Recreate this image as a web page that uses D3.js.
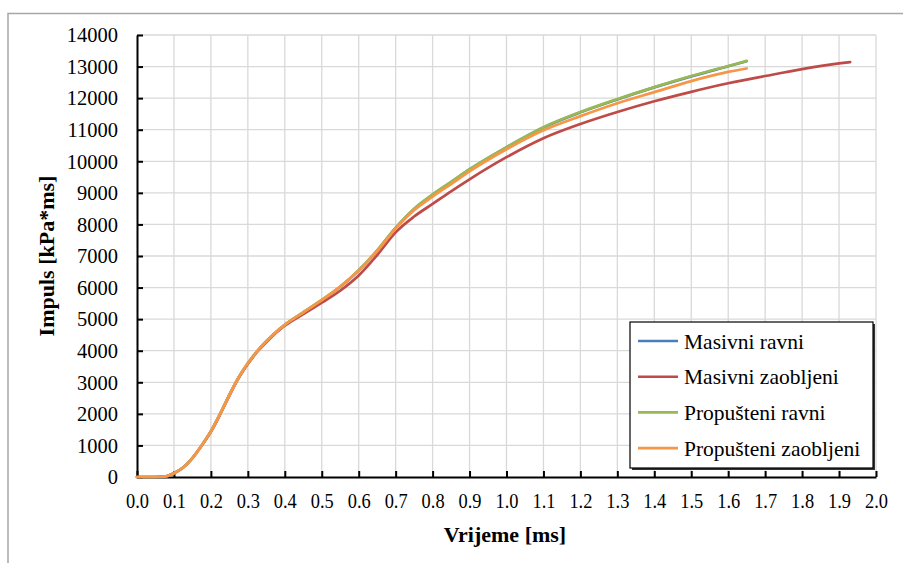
<!DOCTYPE html>
<html><head><meta charset="utf-8">
<script src="https://cdn.jsdelivr.net/npm/d3@7"></script>
<style>body{margin:0;background:#fff}svg{display:block}text{font-family:"Liberation Serif","DejaVu Serif",serif}</style>
</head><body>
<svg id="c" width="903" height="563"></svg>
<script>
const seriesNames = ["Masivni ravni","Masivni zaobljeni","Propušteni ravni","Propušteni zaobljeni"];
const seriesColors = ["#4a7ebb","#be4b48","#98b954","#f79646"];
const timeP = [0,0.05,0.075,0.1,0.125,0.15,0.175,0.2,0.225,0.25,0.275,0.3,0.325,0.35,0.375,0.4,0.45,0.5,0.55,0.6,0.65,0.7,0.75,0.8,0.85,0.9,1.0,1.1,1.2,1.3,1.4,1.5,1.6,1.65];
const timeM = [0,0.05,0.075,0.1,0.125,0.15,0.175,0.2,0.225,0.25,0.275,0.3,0.325,0.35,0.375,0.4,0.45,0.5,0.55,0.6,0.65,0.7,0.75,0.8,0.85,0.9,1.0,1.1,1.2,1.3,1.4,1.5,1.6,1.7,1.8,1.9,1.93];
const masivniRavni =        [0,0,15,120,300,600,1000,1450,2000,2600,3150,3600,3980,4300,4580,4820,5210,5600,6020,6540,7170,7890,8490,8940,9340,9740,10440,11070,11550,11960,12340,12690,13010,13170];
const masivniZaobljeni =    [0,0,15,120,300,600,990,1430,1980,2580,3130,3580,3960,4270,4550,4790,5160,5520,5900,6380,7030,7750,8250,8650,9050,9430,10130,10730,11180,11560,11900,12200,12470,12700,12920,13100,13140];
const propusteniRavni =     [0,0,15,120,300,600,1000,1450,2000,2600,3150,3600,3980,4300,4580,4820,5220,5610,6030,6550,7180,7900,8500,8950,9350,9750,10450,11080,11560,11970,12350,12700,13020,13180];
const propusteniZaobljeni = [0,0,15,120,300,600,1000,1450,2000,2600,3150,3600,3980,4300,4580,4820,5210,5600,6030,6540,7160,7870,8450,8880,9280,9680,10380,10980,11430,11840,12190,12540,12830,12940];
const xTicks = d3.range(0,21).map(i=>i/10);
const yTicks = d3.range(0,15).map(i=>i*1000);

const series = [
  {name:seriesNames[0], color:seriesColors[0], t:timeP, v:masivniRavni},
  {name:seriesNames[1], color:seriesColors[1], t:timeM, v:masivniZaobljeni},
  {name:seriesNames[2], color:seriesColors[2], t:timeP, v:propusteniRavni},
  {name:seriesNames[3], color:seriesColors[3], t:timeP, v:propusteniZaobljeni}
];

const svg = d3.select("#c");
const L=137,R=876,T=35,B=477;
const x = d3.scaleLinear().domain([0,2]).range([L,R]);
const y = d3.scaleLinear().domain([0,14000]).range([B,T]);

// outer chart border
svg.append("path").attr("d","M8,563V13.5H903").attr("fill","none").attr("stroke","#a6a6a6").attr("stroke-width",1.5);

// grid
svg.append("g").selectAll("line").data(xTicks.slice(1)).join("line")
  .attr("x1",d=>x(d)).attr("x2",d=>x(d)).attr("y1",T).attr("y2",B)
  .attr("stroke","#d9d9d9").attr("stroke-width",1.3);
svg.append("g").selectAll("line").data(yTicks.slice(1)).join("line")
  .attr("x1",L).attr("x2",R).attr("y1",d=>y(d)).attr("y2",d=>y(d))
  .attr("stroke","#d9d9d9").attr("stroke-width",1.3);

// axes
const font = '"Liberation Serif","DejaVu Serif",serif';
const yAxis = svg.append("g").attr("transform",`translate(${L},0)`)
  .call(d3.axisLeft(y).tickValues(yTicks).tickSizeInner(-6).tickSizeOuter(0).tickPadding(25).tickFormat(d3.format("d")));
const xAxis = svg.append("g").attr("transform",`translate(0,${B})`)
  .call(d3.axisBottom(x).tickValues(xTicks).tickSizeInner(-6).tickSizeOuter(0).tickPadding(0).tickFormat(d3.format(".1f")));
[yAxis,xAxis].forEach(a=>{
  a.attr("font-family",null).attr("font-size",null);
  a.select(".domain").attr("stroke","#000").attr("stroke-width",2);
  a.selectAll(".tick line").attr("stroke","#000").attr("stroke-width",2);
  a.selectAll("text").style("font-family",font).style("font-size","20.5px").attr("fill","#000");
});
yAxis.selectAll("text").attr("x",-19).attr("dy","0.33em");
xAxis.selectAll("text").attr("y",31).attr("dy",0)
  .attr("textLength",23).attr("lengthAdjust","spacingAndGlyphs");

// lines
const line = d3.line().x(d=>x(d[0])).y(d=>y(d[1])).curve(d3.curveMonotoneX);
svg.append("g").selectAll("path").data(series).join("path")
  .attr("d",s=>line(s.t.map((t,i)=>[t,s.v[i]])))
  .attr("fill","none").attr("stroke",s=>s.color).attr("stroke-width",2.7)
  .attr("stroke-linejoin","round").attr("stroke-linecap","round");

// axis titles
svg.append("text").attr("x",505).attr("y",542).attr("text-anchor","middle")
  .style("font-family",font).style("font-weight","bold").style("font-size","22px").text("Vrijeme [ms]");
svg.append("text").attr("transform","translate(54,256) rotate(-90)").attr("text-anchor","middle")
  .style("font-family",font).style("font-weight","bold").style("font-size","22px").text("Impuls [kPa*ms]");

// legend
const lg = svg.append("g");
lg.append("rect").attr("x",632).attr("y",324).attr("width",243).attr("height",146).attr("fill","#333");
lg.append("rect").attr("x",630).attr("y",322).attr("width",243).attr("height",146)
  .attr("fill","#fff").attr("stroke","#000").attr("stroke-width",1.2);
const items = lg.selectAll("g.it").data(series).join("g").attr("class","it")
  .attr("transform",(d,i)=>`translate(0,${341+i*35.7})`);
items.append("line").attr("x1",638).attr("x2",678).attr("y1",0).attr("y2",0)
  .attr("stroke",d=>d.color).attr("stroke-width",2.6);
items.append("text").attr("x",684).attr("y",7.5).style("font-family",font).style("font-size","21.5px")
  .attr("fill","#000").text(d=>d.name);
</script>
</body></html>
